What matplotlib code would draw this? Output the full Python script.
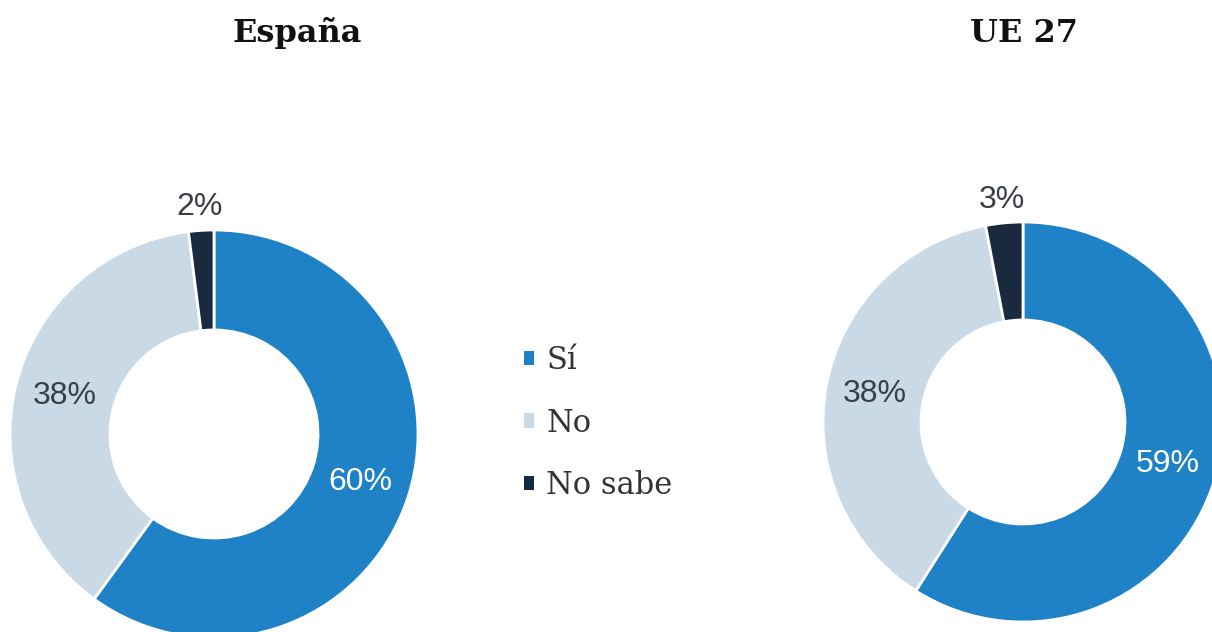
import numpy as np
import matplotlib.pyplot as plt

# Respuestas por ámbito
respuestas = ["Sí", "No", "No sabe"]
espana = [60, 38, 2]
ue27 = [59, 38, 3]
colores = ["#1f81c6", "#c9dae6", "#1a2a3e"]

fig = plt.figure(figsize=(12.12, 6.32), dpi=100)
ax = fig.add_axes([0, 0, 1, 1])

W, H = 1212, 632


def donut(valores, cx, cy, r, titulo, tx):
    wedges, _ = ax.pie(valores, colors=colores, radius=r, center=(cx, cy),
                       startangle=90, counterclock=False,
                       wedgeprops=dict(width=0.49 * r, edgecolor="white", linewidth=2))
    for i, (w, v) in enumerate(zip(wedges, valores)):
        ang = np.deg2rad((w.theta1 + w.theta2) / 2)
        if v < 5:
            d, col = 1.115, "#3a3f47"
        elif i == 0:
            d, col = 0.755, "white"
        else:
            d, col = 0.755, "#3a3f47"
        ax.text(cx + d * r * np.cos(ang), cy + d * r * np.sin(ang), f"{v}%",
                ha="center", va="center", fontsize=23, color=col,
                family="Liberation Sans")
    ax.text(tx, H - 33, titulo, ha="center", va="center", fontsize=23,
            fontweight="bold", family="DejaVu Serif", color="#111111")
    return wedges


wedges = donut(espana, 214, H - 434, 204, "España", 297)
donut(ue27, 1023, H - 422, 200, "UE 27", 1024)

ax.set_xlim(0, W)
ax.set_ylim(0, H)
ax.set_aspect("equal")
ax.axis("off")

leg = fig.legend(wedges, respuestas, loc="center left",
                 bbox_to_anchor=(496 / W, 1 - 423 / H), frameon=False,
                 handlelength=0.35, handleheight=0.35, handletextpad=0.4,
                 labelspacing=1.03, prop=dict(family="DejaVu Serif", size=22))
for t in leg.get_texts():
    t.set_color("#333333")
for h in leg.legend_handles:
    h.set_edgecolor("none")

fig.savefig("out.png", dpi=100)
